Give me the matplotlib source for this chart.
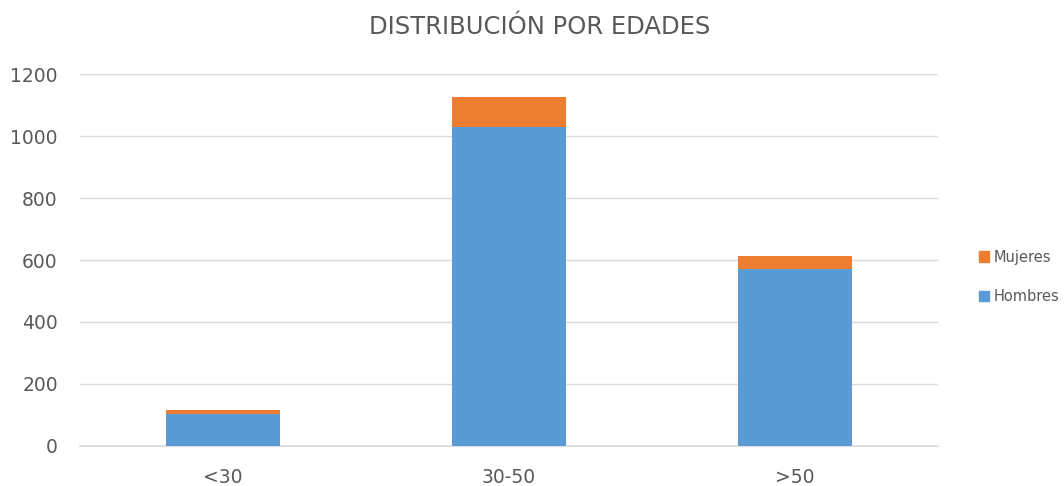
import matplotlib.pyplot as plt
from matplotlib.patches import Patch

# data
categories = ['<30', '30-50', '>50']
hombres = [101, 1029, 570]
mujeres = [14, 98, 43]

blue = '#5B9BD5'
orange = '#ED7D31'
grey = '#595959'

plt.rcParams['font.family'] = ['DejaVu Sans']

fig = plt.figure(figsize=(10.64, 4.86), dpi=100)
ax = fig.add_axes([80/1064, 1-445.7/486, (938-80)/1064, (445.7-74.3)/486])

x = range(len(categories))
ax.bar(x, hombres, width=0.4, color=blue, zorder=3)
ax.bar(x, mujeres, width=0.4, bottom=hombres, color=orange, zorder=3)

ax.set_xlim(-0.5, 2.5)
ax.set_ylim(0, 1200)
ax.set_yticks(range(0, 1201, 200))
ax.set_xticks(list(x))
ax.set_xticklabels(categories)
ax.yaxis.grid(True, color='#D9D9D9', linewidth=1, zorder=0)
for s in ['top', 'right', 'left']:
    ax.spines[s].set_visible(False)
ax.spines['bottom'].set_color('#D9D9D9')
ax.spines['bottom'].set_linewidth(1.2)
ax.tick_params(axis='both', length=0, labelsize=13.5, colors=grey)
ax.tick_params(axis='y', pad=16)
ax.tick_params(axis='x', pad=16)

fig.text(540/1064, 1-27/486, 'DISTRIBUCIÓN POR EDADES', ha='center', va='center',
         fontsize=17.5, color=grey)

handles = [Patch(color=orange, label='Mujeres'), Patch(color=blue, label='Hombres')]
fig.legend(handles=handles, loc='center left', bbox_to_anchor=(966/1064, 1-277/486),
           frameon=False, fontsize=10.5, labelcolor=grey, handlelength=0.7,
           handleheight=0.7, handletextpad=0.3, labelspacing=1.7)

fig.savefig('out.png', dpi=100)
